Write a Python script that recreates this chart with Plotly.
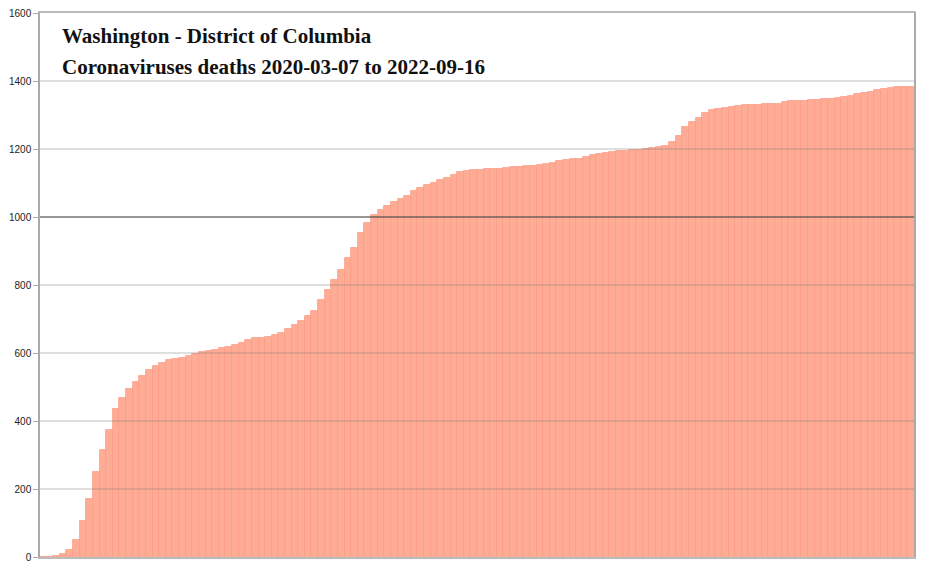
import pandas as pd
import plotly.graph_objects as go

# cumulative deaths, one reading per week starting 2020-03-07
start_date = "2020-03-07"
deaths = [
    0, 0, 2, 9, 20, 50, 105, 170, 250, 315,
    375, 435, 468, 495, 514, 532, 550, 562, 571, 578,
    582, 585, 590, 597, 603, 606, 610, 615, 619, 624,
    629, 638, 643, 645, 648, 652, 660, 670, 682, 694,
    708, 725, 755, 785, 815, 845, 878, 910, 952, 982,
    1005, 1022, 1033, 1043, 1053, 1063, 1076, 1086, 1094, 1101,
    1108, 1116, 1124, 1131, 1135, 1137, 1139, 1140, 1141, 1142,
    1144, 1146, 1147, 1149, 1151, 1154, 1156, 1160, 1164, 1167,
    1170, 1172, 1177, 1182, 1185, 1188, 1192, 1194, 1195, 1197,
    1198, 1200, 1202, 1205, 1209, 1220, 1238, 1265, 1280, 1292,
    1305, 1314, 1319, 1322, 1325, 1327, 1328, 1329, 1330, 1331,
    1331, 1333, 1339, 1340, 1341, 1342, 1344, 1345, 1346, 1347,
    1350, 1354, 1357, 1361, 1364, 1368, 1373, 1376, 1379, 1381,
    1382, 1383,
]
y_ticks = [0, 200, 400, 600, 800, 1000, 1200, 1400, 1600]
title_lines = ["Washington - District of Columbia",
               "Coronaviruses deaths 2020-03-07 to 2022-09-16"]

dates = pd.date_range(start_date, periods=len(deaths), freq="7D")

fig = go.Figure()
fig.add_trace(go.Bar(
    x=dates, y=deaths,
    marker_color="rgb(255,172,150)",
    marker_line_color="rgb(250,156,132)",
    marker_line_width=0.8,
    showlegend=False,
))

# grid lines sit on top of the bars in the original
for v in y_ticks[1:-1]:
    fig.add_hline(y=v, layer="above",
                  line_color="rgba(70,70,70,0.75)" if v == 1000 else "rgba(110,110,110,0.45)",
                  line_width=1.3 if v == 1000 else 1)

half_week = pd.Timedelta(days=3.5)
# page body has an 8px margin, so the figure is shrunk/shifted by that much
fig.update_layout(
    width=928, height=567,
    margin=dict(l=32, r=22, t=5, b=18),
    plot_bgcolor="white", paper_bgcolor="white",
    bargap=0,
    font=dict(family="Liberation Sans, Arial, sans-serif", size=10, color="#222"),
    xaxis=dict(range=[dates[0] - half_week, dates[-1] + half_week],
               showticklabels=False, showgrid=False, zeroline=False,
               showline=True, linecolor="#bbb", linewidth=1.5, mirror=True,
               ticks="", automargin=False),
    yaxis=dict(range=[0, 1600], tickvals=y_ticks, showgrid=False, zeroline=False,
               showline=True, linecolor="#aaa", linewidth=1.5, mirror=True,
               ticks="outside", ticklen=5, tickcolor="#aaa",
               ticklabeloverflow="allow", automargin=False,
               tickfont=dict(size=10, color="#222")),
)

for i, line in enumerate(title_lines):
    fig.add_annotation(
        text="<b>" + line + "</b>",
        xref="paper", yref="paper", x=0.023, y=0.984 - i * 0.057,
        xanchor="left", yanchor="top", showarrow=False,
        font=dict(family="Liberation Serif, serif", size=21, color="#111"),
    )

fig.write_html("out.html")
